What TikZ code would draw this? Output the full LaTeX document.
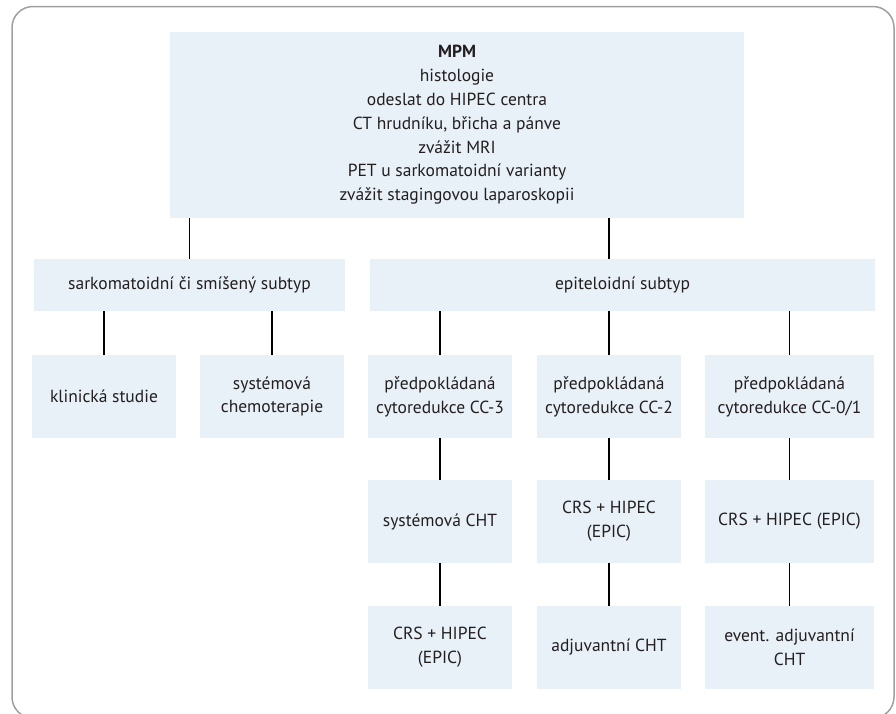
\documentclass[tikz,border=0pt]{standalone}
\usepackage{fontspec}
\setmainfont{PT Sans}
\definecolor{boxfill}{HTML}{E8F0F8}
\definecolor{framegray}{HTML}{A0A0A0}
\definecolor{textcol}{HTML}{231F20}
\tikzset{
  px/.style={x=1pt,y=-1pt},
  flowbox/.style={fill=boxfill, draw=none, align=center, inner sep=0pt, anchor=center,
    text=textcol, font=\fontsize{17.5}{23.8}\selectfont},
  link/.style={draw=black, line width=1.4pt},
}
\begin{document}
\begin{tikzpicture}[px]
\clip (0,0) rectangle (896,713);
\fill[white] (0,0) rectangle (896,713);
\draw[framegray, line width=1.5pt, rounded corners=21pt] (12,6.5) rectangle (894,718);

\node[flowbox, minimum width=574pt, minimum height=186pt] (top) at (457,125)
  {\textbf{MPM}\\histologie\\odeslat do HIPEC centra\\CT hrudníku, břicha a pánve\\zvážit MRI\\PET u sarkomatoidní varianty\\zvážit stagingovou laparoskopii};

\node[flowbox, minimum width=311pt, minimum height=52pt] (sark) at (189.5,285) {sarkomatoidní či smíšený subtyp};
\node[flowbox, minimum width=505pt, minimum height=52pt] (epit) at (622.5,285) {epiteloidní subtyp};

\node[flowbox, minimum width=144pt, minimum height=83pt] (klin) at (104,396.5) {klinická studie};
\node[flowbox, minimum width=144pt, minimum height=83pt] (sysch) at (272,396.5) {systémová\\chemoterapie};
\node[flowbox, minimum width=144pt, minimum height=83pt] (ccthree) at (440,396.5) {předpokládaná\\cytoredukce CC-3};
\node[flowbox, minimum width=144pt, minimum height=83pt] (cctwo) at (609,396.5) {předpokládaná\\cytoredukce CC-2};
\node[flowbox, minimum width=169pt, minimum height=83pt] (ccone) at (789.5,396.5) {předpokládaná\\cytoredukce CC-0/1};

\node[flowbox, minimum width=144pt, minimum height=83pt] (sysa) at (440,521.5) {systémová CHT};
\node[flowbox, minimum width=144pt, minimum height=83pt] (crsb) at (609,521.5) {CRS + HIPEC\\(EPIC)};
\node[flowbox, minimum width=169pt, minimum height=83pt] (crsc) at (789.5,521.5) {CRS + HIPEC (EPIC)};

\node[flowbox, minimum width=144pt, minimum height=83pt] (crsa) at (440,647.5) {CRS + HIPEC\\(EPIC)};
\node[flowbox, minimum width=144pt, minimum height=83pt] (adjb) at (609,647.5) {adjuvantní CHT};
\node[flowbox, minimum width=169pt, minimum height=83pt] (adjc) at (789.5,647.5) {event. adjuvantní\\CHT};

\draw[link] (top.south -| sark.north) -- (sark.north);
\draw[link] (top.south -| cctwo.north) -- (epit.north -| cctwo.north);
\draw[link] (sark.south -| klin.north) -- (klin.north);
\draw[link] (sark.south -| sysch.north) -- (sysch.north);
\draw[link] (epit.south -| ccthree.north) -- (ccthree.north);
\draw[link] (epit.south -| cctwo.north) -- (cctwo.north);
\draw[link] (epit.south -| ccone.north) -- (ccone.north);
\draw[link] (ccthree.south) -- (sysa.north);
\draw[link] (cctwo.south) -- (crsb.north);
\draw[link] (ccone.south) -- (crsc.north);
\draw[link] (sysa.south) -- (crsa.north);
\draw[link] (crsb.south) -- (adjb.north);
\draw[link] (crsc.south) -- (adjc.north);
\end{tikzpicture}
\end{document}
